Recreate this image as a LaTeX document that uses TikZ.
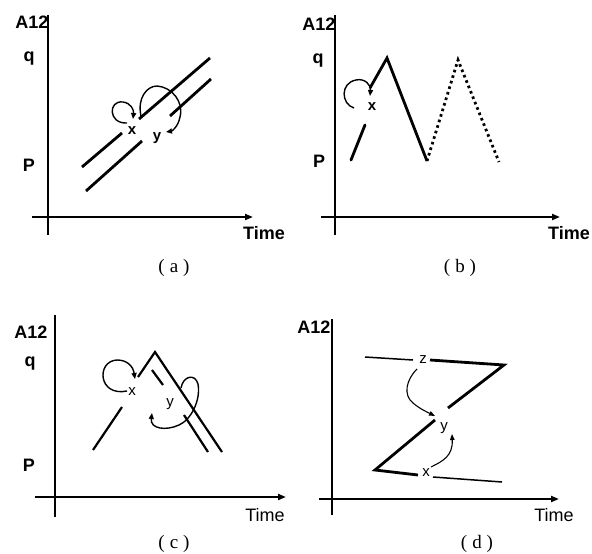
\documentclass[tikz,border=0pt]{standalone}
\usepackage{fontspec}
\setmainfont{Liberation Sans}
\newfontfamily\capfont{Liberation Serif}
\usetikzlibrary{arrows.meta}
\tikzset{
  vaxis/.style={line width=1.3pt},
  haxis/.style={line width=2.2pt,-{Triangle[length=8pt,width=6pt]}},
  data/.style={line width=2.8pt},
  thindata/.style={line width=1.5pt},
  dotdata/.style={line width=2.8pt,dash pattern=on 2.6pt off 3.2pt},
  loopar/.style={line width=1.4pt,-{Triangle[length=6pt,width=5pt]}},
  thinar/.style={line width=1.1pt,-{Triangle[length=6pt,width=4.5pt]}},
  lab/.style={font=\fontsize{18}{18}\selectfont\bfseries,inner sep=0pt},
  tlab/.style={font=\fontsize{18}{18}\selectfont,inner sep=0pt},
  var/.style={font=\fontsize{15}{15}\selectfont\bfseries,inner sep=0pt},
  rvar/.style={font=\fontsize{15}{15}\selectfont,inner sep=0pt},
  caplab/.style={font=\capfont\fontsize{19}{19}\selectfont,inner sep=0pt}
}
\begin{document}
\begin{tikzpicture}[x=1pt,y=-1pt]
\useasboundingbox[fill=white] (0,0) rectangle (592,554);

% ---------------- (a)
\draw[vaxis] (48,15) -- (48,235);
\draw[haxis] (32,217) -- (253,217);
\node[lab] (aA) at (32,22) {A12};
\node[lab] (aq) at (29,59) {q};
\node[lab] (aP) at (29,165) {P};
\node[lab] (aT) at (264,233) {Time};
\node[caplab] (acap) at (174,268) {(\hspace{5pt}a\hspace{5pt})};
\draw[data] (82,167) -- (122,133);
\draw[data] (139,119) -- (210,58);
\draw[data] (86,191) -- (142,141);
\draw[data] (170,116) -- (211,79);
\node[var] (ax) at (132,131) {x};
\node[var] (ay) at (157,138) {y};
\draw[loopar] (127,123) .. controls (108,124) and (108,100) .. (123,102)
   .. controls (131,103) and (134,110) .. (133,119);
\draw[loopar] (141,116) .. controls (137,98) and (147,86) .. (157,86)
   .. controls (172,87) and (184,102) .. (180,117)
   .. controls (178,127) and (172,131) .. (166,132);

% ---------------- (b)
\draw[vaxis] (335,15) -- (335,235);
\draw[haxis] (321,217) -- (560,217);
\node[lab] (bA) at (319,24) {A12};
\node[lab] (bq) at (318,61) {q};
\node[lab] (bP) at (319,161) {P};
\node[lab] (bT) at (569,233) {Time};
\node[caplab] (bcap) at (460,268) {(\hspace{5pt}b\hspace{5pt})};
\draw[data,line cap=round] (351,160) -- (365,125);
\draw[data,line join=miter] (370,88) -- (387,58) -- (427,161);
\draw[dotdata] (427,161) -- (458,60) -- (499,162);
\node[var] (bx) at (372,107) {x};
\draw[loopar] (354,108) .. controls (341,104) and (340,83) .. (356,80)
   .. controls (365,78) and (371,85) .. (370,96);

% ---------------- (c)
\draw[vaxis] (55,315) -- (55,517);
\draw[haxis] (35,497) -- (286,497);
\node[lab] (cA) at (31,332) {A12};
\node[lab] (cq) at (30,364) {q};
\node[lab] (cP) at (29,465) {P};
\node[tlab] (cT) at (265,515) {Time};
\node[caplab] (ccap) at (174,544) {(\hspace{5pt}c\hspace{5pt})};
\draw[data,line width=2.2pt] (93,450) -- (122,407);
\draw[data,line width=2.2pt,line join=miter] (138,377) -- (155,352) -- (222,452);
\draw[data,line width=2.2pt] (152,370) -- (163,385);
\draw[data,line width=2.2pt] (184,415) -- (208,452);
\node[rvar] (cx) at (132,392) {x};
\node[rvar] (cy) at (170,404) {y};
\draw[loopar] (127,391) .. controls (98,397) and (96,361) .. (117,360)
   .. controls (127,360) and (133,366) .. (135,379);
\draw[loopar] (181,388) .. controls (183,376) and (195,373) .. (198,384)
   .. controls (201,400) and (191,420) .. (179,425)
   .. controls (166,431) and (150,429) .. (152,413);

% ---------------- (d)
\draw[vaxis] (332,319) -- (332,515);
\draw[haxis] (319,499) -- (559,499);
\node[lab] (dA) at (314,327) {A12};
\node[tlab] (dT) at (554,515) {Time};
\node[caplab] (dcap) at (477,544) {(\hspace{5pt}d\hspace{5pt})};
\draw[thindata] (365,357) -- (413,360);
\draw[data,line join=miter] (430,360) -- (504,365) -- (448,408);
\draw[data,line join=miter] (435,420) -- (375,470) -- (418,475);
\draw[thindata] (433,477) -- (502,482);
\node[rvar] (dz) at (423,360) {z};
\node[rvar] (dy) at (444,428) {y};
\node[rvar] (dx) at (426,473) {x};
\draw[thinar] (417,369) .. controls (406,380) and (403,395) .. (413,403)
   .. controls (420,409) and (427,412) .. (435,416);
\draw[thinar] (431,467) .. controls (443,461) and (453,456) .. (452,434);
\end{tikzpicture}
\end{document}
